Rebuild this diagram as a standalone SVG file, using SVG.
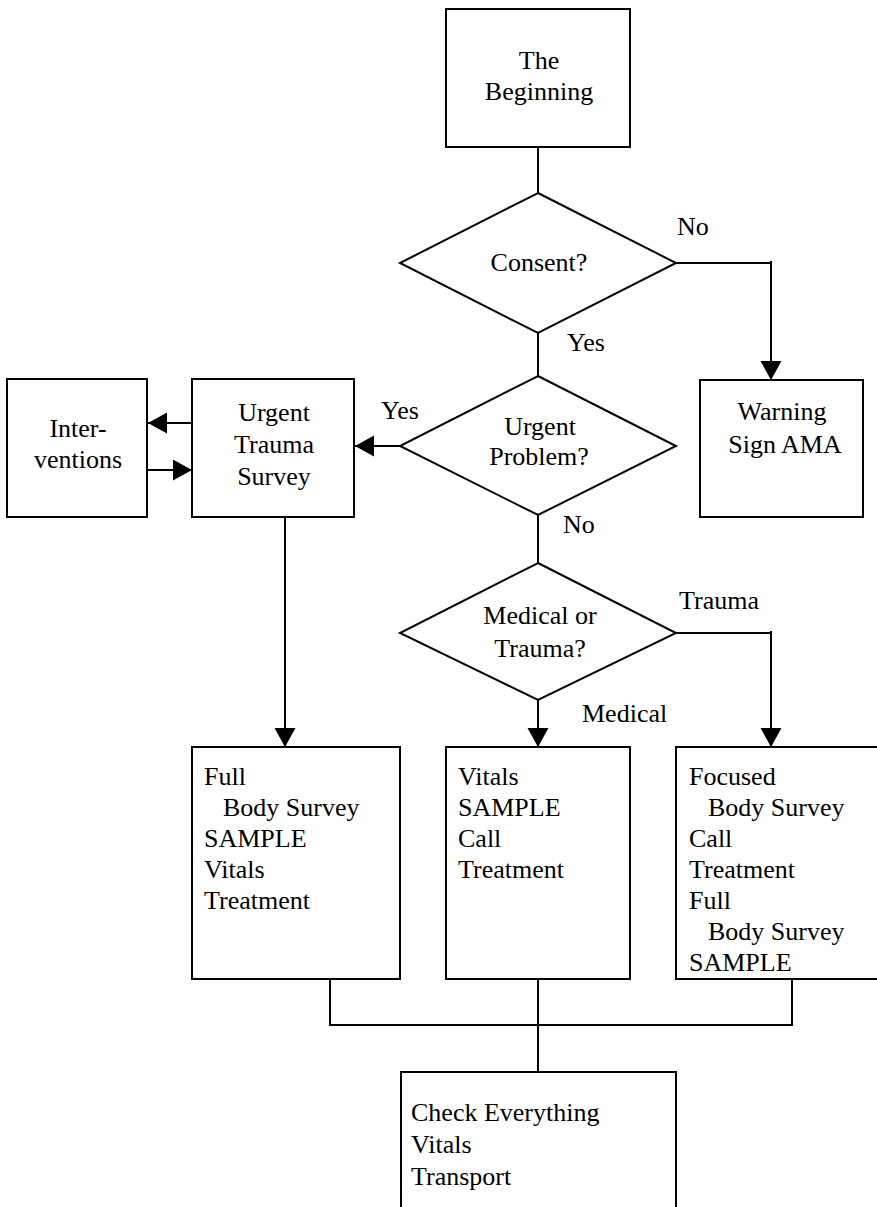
<svg xmlns="http://www.w3.org/2000/svg" width="877" height="1207" viewBox="0 0 877 1207">
<style>
.box{fill:#fff;stroke:#000;stroke-width:2}
.ln{fill:none;stroke:#000;stroke-width:2}
.arr{fill:none;stroke:#000;stroke-width:2;marker-end:url(#ah)}
text{font-family:"Liberation Serif","Times New Roman",serif;font-size:26px;fill:#000}
.c{text-anchor:middle}
</style>
<defs>
<marker id="ah" markerUnits="userSpaceOnUse" markerWidth="20" markerHeight="22" refX="19" refY="10.5" orient="auto">
<path d="M0,0 L19,10.5 L0,21 Z" fill="#000"/>
</marker>
</defs>
<rect width="877" height="1207" fill="#fff"/>
<g id="connectors">
<line class="ln" x1="538" y1="147" x2="538" y2="193"/>
<line class="ln" x1="538" y1="333" x2="538" y2="376"/>
<polyline class="ln" points="676,263 771,263"/>
<line class="arr" x1="771" y1="261" x2="771" y2="380"/>
<line class="arr" x1="400" y1="446" x2="355" y2="446"/>
<line class="arr" x1="192" y1="423" x2="148" y2="423"/>
<line class="arr" x1="147" y1="470" x2="192" y2="470"/>
<line class="ln" x1="538" y1="515" x2="538" y2="563"/>
<line class="arr" x1="285" y1="517" x2="285" y2="747"/>
<line class="arr" x1="538" y1="700" x2="538" y2="747"/>
<polyline class="ln" points="676,633 771,633"/>
<line class="arr" x1="771" y1="631" x2="771" y2="747"/>
<polyline class="ln" points="330,979 330,1025 792,1025 792,979"/>
<line class="ln" x1="538" y1="979" x2="538" y2="1072"/>
<text x="677" y="235">No</text>
<text x="567" y="351">Yes</text>
<text x="381" y="419">Yes</text>
<text x="563" y="533">No</text>
<text x="679" y="609">Trauma</text>
<text x="582" y="722">Medical</text>
</g>
<g id="beginning">
<rect class="box" x="446" y="9" width="184" height="138"/>
<text class="c" x="539" y="69">The</text>
<text class="c" x="539" y="100">Beginning</text>
</g>
<g id="consent">
<polygon class="box" points="538,193 676,263 538,333 400,263"/>
<text class="c" x="539" y="271">Consent?</text>
</g>
<g id="warning">
<rect class="box" x="700" y="380" width="163" height="137"/>
<text class="c" x="782" y="420">Warning</text>
<text class="c" x="785" y="453">Sign AMA</text>
</g>
<g id="urgent-problem">
<polygon class="box" points="538,376 676,446 538,515 400,446"/>
<text class="c" x="540" y="435">Urgent</text>
<text class="c" x="539" y="465">Problem?</text>
</g>
<g id="urgent-trauma-survey">
<rect class="box" x="192" y="379" width="162" height="138"/>
<text class="c" x="274" y="421">Urgent</text>
<text class="c" x="274" y="453">Trauma</text>
<text class="c" x="274" y="485">Survey</text>
</g>
<g id="interventions">
<rect class="box" x="7" y="379" width="140" height="138"/>
<text class="c" x="78" y="437">Inter-</text>
<text class="c" x="78" y="468">ventions</text>
</g>
<g id="medical-or-trauma">
<polygon class="box" points="538,563 676,633 538,700 400,633"/>
<text class="c" x="540" y="624">Medical or</text>
<text class="c" x="540" y="657">Trauma?</text>
</g>
<g id="full-body">
<rect class="box" x="192" y="747" width="208" height="232"/>
<text x="204" y="785">Full</text>
<text x="223" y="816">Body Survey</text>
<text x="204" y="847">SAMPLE</text>
<text x="204" y="878">Vitals</text>
<text x="204" y="909">Treatment</text>
</g>
<g id="medical">
<rect class="box" x="446" y="747" width="184" height="232"/>
<text x="458" y="785">Vitals</text>
<text x="458" y="816">SAMPLE</text>
<text x="458" y="847">Call</text>
<text x="458" y="878">Treatment</text>
</g>
<g id="trauma">
<rect class="box" x="676" y="747" width="230" height="232"/>
<text x="689" y="785">Focused</text>
<text x="708" y="816">Body Survey</text>
<text x="689" y="847">Call</text>
<text x="689" y="878">Treatment</text>
<text x="689" y="909">Full</text>
<text x="708" y="940">Body Survey</text>
<text x="689" y="971">SAMPLE</text>
</g>
<g id="check-everything">
<rect class="box" x="401" y="1072" width="275" height="160"/>
<text x="411" y="1121">Check Everything</text>
<text x="411" y="1153">Vitals</text>
<text x="411" y="1185">Transport</text>
</g>
</svg>
